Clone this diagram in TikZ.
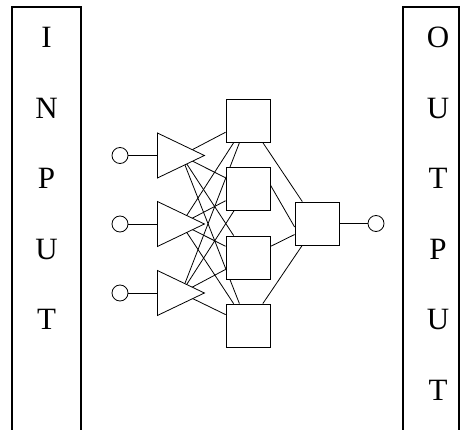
\documentclass[tikz,border=0pt]{standalone}
\usepackage{fontspec}
\setmainfont{Liberation Serif}
\usetikzlibrary{shapes.geometric,calc,backgrounds}
\begin{document}
\begin{tikzpicture}[x=1pt,y=-1pt,
  wire/.style={line width=0.8pt},
  frame/.style={line width=1.3pt},
  letter/.style={font=\fontsize{31}{31}\selectfont, inner sep=0pt, text height=21pt, text depth=0pt},
  port/.style={circle, draw, line width=0.8pt, minimum size=16pt, inner sep=0pt},
  amp/.style={isosceles triangle, isosceles triangle stretches, draw, fill=white,
    line width=0.8pt, minimum width=45pt, minimum height=47pt, inner sep=0pt},
  unit/.style={rectangle, draw, fill=white, line width=0.8pt,
    minimum width=44pt, minimum height=43pt, inner sep=0pt}]
\useasboundingbox (0,0) rectangle (463,430);

% side frames, open at the bottom
\draw[frame] (12,432) -- (12,7) -- (81,7) -- (81,432);
\draw[frame] (403,432) -- (403,7) -- (459,7) -- (459,432);

% column letters
\foreach \ch [count=\k from 0] in {I,N,P,U,T}
  \node[letter] (in\k) at (46.5,37+70.6*\k) {\ch};
\foreach \ch [count=\k from 0] in {O,U,T,P,U,T}
  \node[letter] (out\k) at (438,37+70.6*\k) {\ch};

% input ports and amplifiers
\foreach \i/\y in {1/155.5,2/224,3/293} {
  \node[port] (x\i) at (120,\y) {};
  \node[amp, anchor=lower side] (t\i) at (157,\y) {};
  \coordinate (c\i) at ($(t\i.apex)!0.5!(t\i.lower side)$);
}

% hidden units
\foreach \h/\y in {1/120.5,2/189,3/257.5,4/325.5}
  \node[unit] (h\h) at (248,\y) {};

% output unit and port
\node[unit] (y) at (317,223.5) {};
\node[port] (z) at (376,223.5) {};

% connections
\begin{scope}[on background layer]
  \foreach \i in {1,2,3} {
    \draw[wire] (x\i) -- (t\i.lower side);
    \foreach \h in {1,...,4}
      \draw[wire] (c\i) -- (h\h);
  }
  \draw[wire] (h1) -- (y);
  \draw[wire] ($(h2.east)+(0,-4)$) -- ($(y.west)+(0,3.5)$);
  \draw[wire] (h3) -- (y);
  \draw[wire] (h4) -- (y);
  \draw[wire] (y) -- (z);
\end{scope}
\end{tikzpicture}
\end{document}
